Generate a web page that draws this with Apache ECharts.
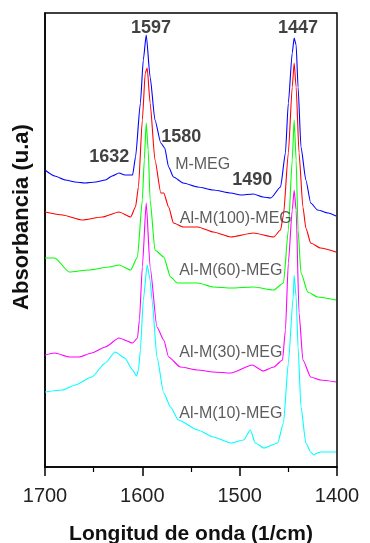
<!DOCTYPE html>
<html>
<head>
<meta charset="utf-8">
<script src="https://cdn.jsdelivr.net/npm/echarts@6/dist/echarts.min.js"></script>
<style>
  html, body { margin: 0; padding: 0; background: #fff; }
  #chart { width: 370px; height: 543px; }
</style>
</head>
<body>
<div id="chart"></div>
<script>
// spectra: [wavenumber (1/cm), absorbance (u.a, offset)]
const mMeg = [
  [1700, 2.97], [1690, 2.91], [1679, 2.87], [1669, 2.85], [1659, 2.84], [1648, 2.85],
  [1638, 2.87], [1631, 2.91], [1624, 2.94], [1618, 2.92], [1610, 2.92], [1607, 3.10],
  [1602, 3.64], [1599, 4.07], [1596, 4.32], [1592, 3.90], [1587, 3.47], [1581, 3.24],
  [1577, 3.19], [1573, 3.00], [1568, 2.90], [1558, 2.84], [1543, 2.80], [1527, 2.77],
  [1509, 2.74], [1499, 2.72], [1486, 2.73], [1476, 2.70], [1468, 2.69], [1458, 2.80],
  [1453, 3.14], [1450, 3.64], [1446, 4.14], [1444, 4.29], [1442, 4.22], [1440, 3.80],
  [1437, 3.20], [1432, 2.87], [1427, 2.64], [1420, 2.57], [1409, 2.54], [1401, 2.51]
];
const al100 = [
  [1700, 2.55], [1682, 2.52], [1662, 2.47], [1641, 2.50], [1624, 2.55], [1612, 2.50],
  [1607, 2.60], [1604, 2.80], [1600, 3.47], [1597, 3.94], [1595, 3.99], [1592, 3.64],
  [1587, 3.07], [1581, 2.74], [1578, 2.74], [1573, 2.60], [1568, 2.44], [1558, 2.40],
  [1543, 2.40], [1527, 2.35], [1509, 2.30], [1486, 2.34], [1465, 2.30], [1458, 2.37],
  [1455, 2.52], [1450, 3.14], [1446, 3.80], [1444, 4.04], [1442, 3.80], [1439, 3.14],
  [1435, 2.60], [1432, 2.39], [1427, 2.24], [1417, 2.19], [1401, 2.15]
];
const al60 = [
  [1700, 2.09], [1690, 2.09], [1675, 1.95], [1655, 1.97], [1634, 2.00], [1624, 2.02],
  [1612, 1.97], [1605, 2.10], [1600, 2.67], [1598, 3.07], [1596, 3.44], [1594, 3.17],
  [1592, 2.67], [1587, 2.17], [1578, 2.10], [1571, 1.90], [1564, 1.84], [1543, 1.84],
  [1527, 1.80], [1509, 1.79], [1486, 1.80], [1465, 1.77], [1455, 1.84], [1450, 2.37],
  [1446, 3.07], [1444, 3.47], [1442, 3.07], [1440, 2.37], [1437, 1.94], [1430, 1.75],
  [1420, 1.70], [1401, 1.67]
];
const al30 = [
  [1700, 1.12], [1690, 1.14], [1675, 1.10], [1665, 1.10], [1652, 1.14], [1638, 1.20],
  [1624, 1.29], [1610, 1.24], [1605, 1.29], [1603, 1.47], [1600, 2.00], [1596, 2.64],
  [1592, 2.00], [1585, 1.40], [1578, 1.27], [1573, 1.10], [1561, 1.00], [1543, 0.97],
  [1527, 0.95], [1509, 0.94], [1487, 1.02], [1476, 0.96], [1465, 1.00], [1456, 1.07],
  [1453, 1.37], [1450, 2.04], [1446, 2.57], [1444, 2.77], [1442, 2.57], [1439, 1.54],
  [1435, 1.07], [1427, 0.90], [1417, 0.87], [1401, 0.85]
];
const al10 = [
  [1700, 0.75], [1682, 0.77], [1669, 0.82], [1652, 0.90], [1638, 1.04], [1628, 1.15],
  [1618, 1.09], [1610, 0.97], [1606, 0.91], [1604, 0.97], [1602, 1.17], [1599, 1.67],
  [1595, 2.02], [1592, 1.87], [1590, 1.67], [1585, 1.10], [1578, 0.74], [1571, 0.60],
  [1563, 0.47], [1543, 0.37], [1527, 0.30], [1509, 0.24], [1496, 0.27], [1489, 0.37],
  [1484, 0.24], [1475, 0.19], [1461, 0.24], [1455, 0.44], [1450, 1.04], [1445, 1.70],
  [1444, 1.92], [1442, 1.70], [1440, 1.20], [1437, 0.60], [1432, 0.24], [1427, 0.15],
  [1424, 0.12], [1420, 0.14], [1417, 0.15], [1401, 0.15]
];

const peakLabels = [
  { name: '1597', value: [1591, 4.39] },
  { name: '1447', value: [1440, 4.39] },
  { name: '1580', value: [1560, 3.30] },
  { name: '1632', value: [1634, 3.10] },
  { name: '1490', value: [1487, 2.87] }
];
const curveLabels = [
  { name: 'M-MEG', value: [1538, 3.02] },
  { name: 'Al-M(100)-MEG', value: [1504, 2.48] },
  { name: 'Al-M(60)-MEG', value: [1509, 1.96] },
  { name: 'Al-M(30)-MEG', value: [1509, 1.14] },
  { name: 'Al-M(10)-MEG', value: [1509, 0.53] }
];

const xTicks = { min: 1400, max: 1700, interval: 100 };

const chart = echarts.init(document.getElementById('chart'));

const spectrum = (name, data, color) => ({
  name,
  type: 'line',
  data,
  showSymbol: false,
  smooth: 0.2,
  smoothMonotone: 'x',
  lineStyle: { color, width: 1.1 },
  itemStyle: { color },
  z: 3
});

const labelSeries = (data, style) => ({
  type: 'scatter',
  data,
  symbolSize: 0,
  silent: true,
  z: 5,
  label: {
    show: true,
    position: 'inside',
    formatter: p => p.name,
    fontFamily: 'Liberation Sans, Arial, sans-serif',
    ...style
  }
});

chart.setOption({
  animation: false,
  backgroundColor: '#fff',
  grid: {
    left: 45, right: 33, top: 13, bottom: 76,
    outerBoundsMode: 'none',
    show: true, borderColor: '#000', borderWidth: 1.5
  },
  xAxis: {
    type: 'value',
    inverse: true,
    min: xTicks.min,
    max: xTicks.max,
    interval: xTicks.interval,
    name: 'Longitud de onda (1/cm)',
    nameLocation: 'middle',
    nameGap: 57,
    nameTextStyle: { fontFamily: 'Liberation Sans, Arial', fontWeight: 'bold', fontSize: 21, color: '#111' },
    axisLine: { lineStyle: { color: '#000', width: 1.5 } },
    axisTick: { inside: false, length: 9, lineStyle: { color: '#000', width: 1.5 } },
    minorTick: { show: true, splitNumber: 2, length: 5, lineStyle: { color: '#000', width: 1.2 } },
    axisLabel: { fontFamily: 'Liberation Sans, Arial', fontSize: 20, color: '#222', margin: 19, formatter: v => String(v) },
    splitLine: { show: false }
  },
  yAxis: {
    type: 'value',
    min: 0,
    max: 4.54,
    name: 'Absorbancia (u.a)',
    nameLocation: 'middle',
    nameGap: 12,
    nameTextStyle: { fontFamily: 'Liberation Sans, Arial', fontWeight: 'bold', fontSize: 22, color: '#111', padding: [0, 0, 0, 46] },
    axisLine: { show: true, lineStyle: { color: '#000', width: 1.5 } },
    axisTick: { show: false },
    axisLabel: { show: false },
    splitLine: { show: false }
  },
  series: [
    spectrum('Al-M(10)-MEG', al10, '#00ffff'),
    spectrum('Al-M(30)-MEG', al30, '#ff00ff'),
    spectrum('Al-M(60)-MEG', al60, '#00ff00'),
    spectrum('Al-M(100)-MEG', al100, '#ff0000'),
    spectrum('M-MEG', mMeg, '#0000ff'),
    labelSeries(peakLabels, { fontWeight: 'bold', fontSize: 18, color: '#111' }),
    labelSeries(curveLabels, { fontSize: 16, color: '#333' })
  ]
});
</script>
</body>
</html>
